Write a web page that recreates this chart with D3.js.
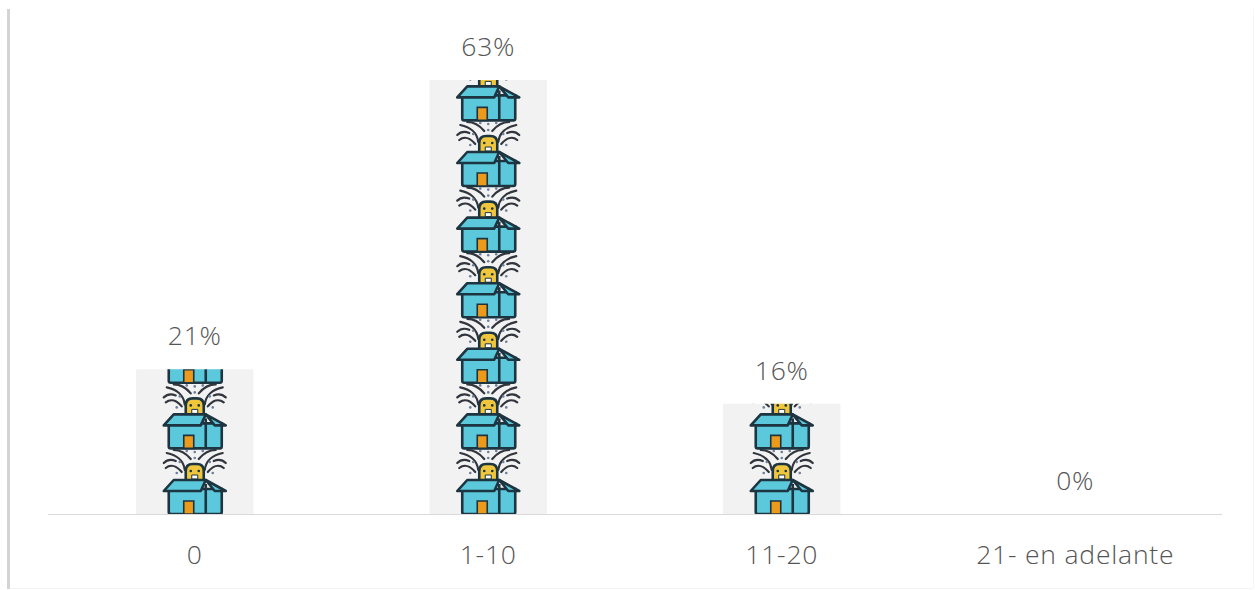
<!DOCTYPE html>
<html><head><meta charset="utf-8">
<script src="https://cdn.jsdelivr.net/npm/d3@7"></script>
<style>html,body{margin:0;padding:0;background:#fff}svg{display:block}</style>
</head><body><div id="c"></div>
<script>
const categories = ["0","1-10","11-20","21- en adelante"];
const percentages = [21,63,16,0];
const W=1256,H=590;
const svg=d3.select("#c").append("svg").attr("width",W).attr("height",H);
const x=d3.scaleBand().domain(categories).range([48,1222]).paddingInner(0.6).paddingOuter(0.3);
const y=d3.scaleLinear().domain([0,63]).range([514,80]);
const cx=d=>x(d)+x.bandwidth()/2;
const period=65.6;
const defs=svg.append("defs");
defs.append("filter").attr("id","soft").attr("x","-10%").attr("y","-10%").attr("width","120%").attr("height","120%")
 .append("feGaussianBlur").attr("stdDeviation",0.45);
const icon=defs.append("g").attr("id","ico").attr("filter","url(#soft)");
const ink="#1d3440";
const sw=[ "M-10,-44 C-11,-53 -18,-59 -28,-61","M-29,-46 C-24,-50 -18,-48 -13,-42","M-31,-51 C-28,-54 -24,-55 -19,-53","M-4,-55 C-9,-61 -14,-64 -21,-64",
"M10,-44 C11,-53 18,-59 28,-61","M29,-46 C24,-50 18,-48 13,-42","M31,-51 C28,-54 24,-55 19,-53","M4,-55 C9,-61 14,-64 21,-64"];
sw.forEach(d=>icon.append("path").attr("d",d).attr("fill","none").attr("stroke","#30353c").attr("stroke-width",2.2).attr("stroke-linecap","round"));
[[-18,-41],[18,-41],[0,-62],[-8,-63],[8,-63],[0,-56],[-15,-52],[15,-52]].forEach(p=>icon.append("circle").attr("cx",p[0]).attr("cy",p[1]).attr("r",1.3).attr("fill","#6d7f9c"));
icon.append("path").attr("d","M-9,-32 V-43 Q-9,-50 -2,-50 H2 Q9,-50 9,-43 V-32 Z").attr("fill","#f0c63c").attr("stroke",ink).attr("stroke-width",2.6);
icon.append("path").attr("d","M-3,-39 h6 v4 h-6 Z").attr("fill","#fff").attr("stroke",ink).attr("stroke-width",1);
icon.append("circle").attr("cx",-4).attr("cy",-43).attr("r",1.3).attr("fill",ink);
icon.append("circle").attr("cx",4).attr("cy",-43).attr("r",1.3).attr("fill",ink);
icon.append("path").attr("d","M-26,-25 V-2 Q-26,0 -24,0 H25 Q27,0 27,-2 V-25 Z").attr("fill","#5cc8dc").attr("stroke",ink).attr("stroke-width",2.6);
icon.append("path").attr("d","M11,-30 V0").attr("stroke",ink).attr("stroke-width",2.6);
icon.append("path").attr("d","M-11,0 V-13 H-1 V0 Z").attr("fill","#ec9a1c").attr("stroke",ink).attr("stroke-width",1.6);
icon.append("path").attr("d","M-31,-23 L-21,-34 H11 L6,-23 Z").attr("fill","#5cc8dc").attr("stroke",ink).attr("stroke-width",2.6).attr("stroke-linejoin","round");
icon.append("path").attr("d","M11,-34 L31,-23 L20,-23 Z").attr("fill","#5cc8dc").attr("stroke",ink).attr("stroke-width",2.6).attr("stroke-linejoin","round");

svg.append("line").attr("x1",8.5).attr("x2",8.5).attr("y1",9).attr("y2",589).attr("stroke","#d4d4d4").attr("stroke-width",3);
svg.append("line").attr("x1",10).attr("x2",1254).attr("y1",588.5).attr("y2",588.5).attr("stroke","#f3f3f3").attr("stroke-width",1);
svg.append("line").attr("x1",1253.5).attr("x2",1253.5).attr("y1",9).attr("y2",589).attr("stroke","#f6f6f6").attr("stroke-width",1);

const g=svg.selectAll("g.bar").data(categories.map((c,i)=>({c,v:percentages[i],i}))).join("g").attr("class","bar");
g.append("clipPath").attr("id",d=>"cl"+d.i).append("rect")
 .attr("x",d=>x(d.c)).attr("width",x.bandwidth()).attr("y",d=>y(d.v)).attr("height",d=>y(0)-y(d.v));
g.append("rect").attr("x",d=>x(d.c)).attr("width",x.bandwidth()).attr("y",d=>y(d.v)).attr("height",d=>y(0)-y(d.v)).attr("fill","#f2f2f2");
g.each(function(d){
  const n=Math.ceil((y(0)-y(d.v))/period);
  const h=d3.select(this).append("g").attr("clip-path",`url(#cl${d.i})`);
  h.selectAll("use").data(d3.range(n)).join("use").attr("href","#ico")
   .attr("transform",k=>`translate(${cx(d.c)},${y(0)-k*period})`);
});
const txt=s=>s.attr("text-anchor","middle").attr("font-family","Open Sans").attr("font-weight",300)
 .attr("font-size",26.5).attr("letter-spacing",0.8).attr("fill","#555");
g.append("text").attr("x",d=>cx(d.c)).attr("y",d=>y(d.v)-24).call(txt).text(d=>d.v+"%");
svg.append("line").attr("x1",48).attr("x2",1222).attr("y1",514.5).attr("y2",514.5).attr("stroke","#d9d9d9").attr("stroke-width",1);
svg.selectAll("text.cat").data(categories).join("text").attr("class","cat").attr("x",cx).attr("y",564).call(txt).text(d=>d);
</script></body></html>
